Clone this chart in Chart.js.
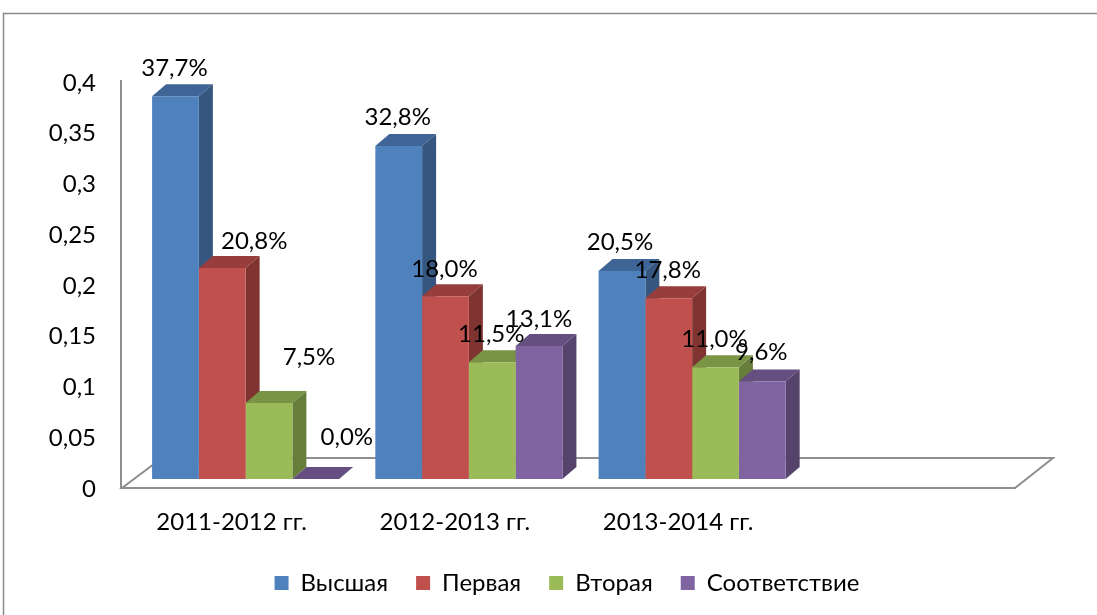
<!DOCTYPE html>
<html>
<head>
<meta charset="utf-8">
<script src="https://cdn.jsdelivr.net/npm/chart.js@4/dist/chart.umd.min.js"></script>
<style>
  html, body { margin: 0; padding: 0; background: #fff; overflow: hidden; }
  canvas { display: block; }
</style>
</head>
<body>
<canvas id="c" width="1097" height="615"></canvas>
<script>
// ---- data ----
const categories = ['2011-2012 гг.', '2012-2013 гг.', '2013-2014 гг.', ''];
const seriesNames = ['Высшая', 'Первая', 'Вторая', 'Соответствие'];
const vysshaya = [0.377, 0.328, 0.205, null];
const pervaya  = [0.208, 0.180, 0.178, null];
const vtoraya  = [0.075, 0.115, 0.110, null];
const sootv    = [0.000, 0.131, 0.096, null];
const yTickValues = [0, 0.05, 0.1, 0.15, 0.2, 0.25, 0.3, 0.35, 0.4];
const yTickLabels = ['0', '0,05', '0,1', '0,15', '0,2', '0,25', '0,3', '0,35', '0,4'];

// ---- style ----
const frontColors = ['#4F81BD', '#C0504D', '#9BBB59', '#8064A2'];
const topColors   = ['#3E6596', '#973E3C', '#7A9446', '#654F80'];
const sideColors  = ['#35567F', '#7F3432', '#677D3A', '#55436C'];
// label shift from bar top-centre, per series per category [dx, dy]
const labelShift = [
  [[-1, -28], [-1, -29], [-2, -29], [0, 0]],
  [[32, -27], [-1, -27], [-1, -28], [0, 0]],
  [[40, -46], [-1, -28], [-1, -28], [0, 0]],
  [[31, -42], [0, -27], [-1, -29], [0, 0]]
];
const DEPTH_X = 14, DEPTH_Y = -12;
const LEGEND_CENTER_X = 567;
const FONT = "Lato, 'Noto Sans', 'Open Sans', sans-serif";
const FONT_SIZE = 24;

const seriesValues = [vysshaya, pervaya, vtoraya, sootv];

function fmtPct(v) {
  return (v * 100).toFixed(1).replace('.', ',') + '%';
}

const threeD = {
  id: 'threeD',
  afterLayout(chart) {
    const lg = chart.legend;
    if (!lg) return;
    const shift = LEGEND_CENTER_X - (lg.left + lg.right) / 2;
    lg.left += shift;
    lg.right += shift;
  },
  beforeDraw(chart) {
    const ctx = chart.ctx;
    ctx.save();
    ctx.fillStyle = '#fff';
    ctx.fillRect(0, 0, chart.width, chart.height);
    ctx.strokeStyle = '#8a8a8a';
    ctx.lineWidth = 1.5;
    ctx.strokeRect(3.5, 13.5, 3000, 3000);
    ctx.restore();
  },
  beforeDatasetsDraw(chart) {
    const ctx = chart.ctx;
    const a = chart.chartArea;
    ctx.save();
    // floor & axis wall line
    ctx.strokeStyle = '#8f8f8f';
    ctx.lineWidth = 2;
    ctx.beginPath();
    ctx.moveTo(a.left - 12, a.bottom + 9);
    ctx.lineTo(a.right - 12, a.bottom + 9);
    ctx.lineTo(a.right + 26, a.bottom - 21);
    ctx.lineTo(a.left + 28, a.bottom - 21);
    ctx.closePath();
    ctx.stroke();
    ctx.beginPath();
    ctx.moveTo(a.left - 13, a.top + 7);
    ctx.lineTo(a.left - 13, a.bottom + 9);
    ctx.stroke();
    // top and side faces of every bar
    const n = categories.length;
    for (let j = 0; j < n; j++) {
      for (let i = 0; i < seriesValues.length; i++) {
        const meta = chart.getDatasetMeta(i);
        const el = meta.data[j];
        if (!el || seriesValues[i][j] === null) continue;
        const p = el.getProps(['x', 'y', 'base', 'width'], true);
        const l = p.x - p.width / 2, r = p.x + p.width / 2;
        const t = Math.min(p.y, p.base), b = Math.max(p.y, p.base);
        ctx.fillStyle = topColors[i];
        ctx.beginPath();
        ctx.moveTo(l, t);
        ctx.lineTo(r, t);
        ctx.lineTo(r + DEPTH_X, t + DEPTH_Y);
        ctx.lineTo(l + DEPTH_X, t + DEPTH_Y);
        ctx.closePath();
        ctx.fill();
        if (b - t > 0.5) {
          ctx.fillStyle = sideColors[i];
          ctx.beginPath();
          ctx.moveTo(r, t);
          ctx.lineTo(r + DEPTH_X, t + DEPTH_Y);
          ctx.lineTo(r + DEPTH_X, b + DEPTH_Y);
          ctx.lineTo(r, b);
          ctx.closePath();
          ctx.fill();
        }
      }
    }
    ctx.restore();
  },
  afterDatasetsDraw(chart) {
    const ctx = chart.ctx;
    ctx.save();
    ctx.fillStyle = '#000';
    ctx.font = FONT_SIZE + 'px ' + FONT;
    ctx.textAlign = 'center';
    ctx.textBaseline = 'middle';
    seriesValues.forEach((vals, i) => {
      const meta = chart.getDatasetMeta(i);
      vals.forEach((v, j) => {
        if (v === null) return;
        const p = meta.data[j].getProps(['x', 'y'], true);
        const s = labelShift[i][j];
        ctx.fillText(fmtPct(v), p.x + s[0], p.y + s[1]);
      });
    });
    ctx.restore();
  }
};

Chart.defaults.font.family = FONT;
Chart.defaults.color = '#000';

new Chart(document.getElementById('c'), {
  type: 'bar',
  data: {
    labels: categories,
    datasets: seriesValues.map((vals, i) => ({
      label: seriesNames[i],
      data: vals,
      backgroundColor: frontColors[i],
      borderWidth: 0,
      categoryPercentage: 0.838,
      barPercentage: 1.0
    }))
  },
  options: {
    responsive: false,
    animation: false,
    devicePixelRatio: 1,
    layout: { padding: { left: 0, right: 70, top: 73, bottom: 10 } },
    plugins: {
      legend: {
        position: 'bottom',
        labels: {
          boxWidth: 14,
          boxHeight: 14,
          padding: 28,
          font: { size: FONT_SIZE },
          color: '#000'
        }
      },
      tooltip: { enabled: false }
    },
    scales: {
      x: {
        grid: { display: false, drawTicks: false },
        border: { display: false },
        ticks: {
          font: { size: FONT_SIZE },
          color: '#000',
          padding: 29,
          labelOffset: -14,
          maxRotation: 0,
          autoSkip: false
        },
        afterFit(scale) { scale.height = 64; }
      },
      y: {
        min: 0,
        max: 0.4,
        grid: { display: false, drawTicks: false },
        border: { display: false },
        afterBuildTicks(scale) {
          scale.ticks = yTickValues.map(v => ({ value: v }));
        },
        ticks: {
          font: { size: FONT_SIZE },
          color: '#000',
          padding: 38,
          labelOffset: 10,
          callback(value, index) { return yTickLabels[index]; }
        },
        afterFit(scale) { scale.width = 134; }
      }
    }
  },
  plugins: [threeD]
});
</script>
</body>
</html>
